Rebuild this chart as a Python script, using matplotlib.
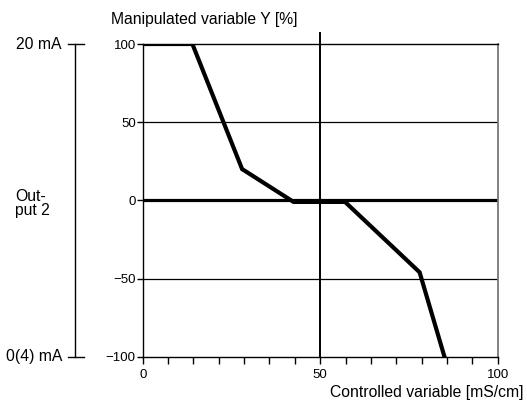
import matplotlib
matplotlib.use("Agg")
import matplotlib.pyplot as plt
import matplotlib.transforms as mtransforms

plt.rcParams['font.family'] = ['Liberation Sans', 'DejaVu Sans']

# characteristic curve: controlled variable vs manipulated variable
x_vals = [0, 14, 28, 42.5, 57, 78, 85]
y_vals = [100, 100, 20, -1, -1, -46, -100]

x_ticks = [i * 100 / 14 for i in range(15)]
x_ticklabels = ['0' if t == 0 else '50' if abs(t - 50) < 1e-6 else '100' if abs(t - 100) < 1e-6 else '' for t in x_ticks]
y_ticks = [-100, -50, 0, 50, 100]
y_ticklabels = ['\u2212100', '\u221250', '0', '50', '100']

fig = plt.figure(figsize=(5.27, 4.03), dpi=100)
ax = fig.add_axes([0.2708, 0.1149, 0.6736, 0.7759])
ax.set_xlim(0, 100)
ax.set_ylim(-100, 100)

# spines
ax.spines['left'].set_linewidth(1.0)
ax.spines['bottom'].set_linewidth(1.0)
ax.spines['top'].set_linewidth(1.0)
ax.spines['right'].set_linewidth(1.3)
ax.spines['right'].set_color('#777777')

# grid lines at +/-50
for yy in [50, -50]:
    ax.axhline(yy, color='black', linewidth=0.9, zorder=1)

# thick zero line and the 50 setpoint line
ax.axhline(0, color='black', linewidth=2.3, zorder=2)
ax.plot([50, 50], [-100, 107], color='black', linewidth=1.4, clip_on=False, zorder=2)

ax.plot(x_vals, y_vals, color='black', linewidth=3.0, solid_joinstyle='miter', zorder=3)

ax.set_xticks(x_ticks)
ax.set_xticklabels(x_ticklabels)
ax.set_yticks(y_ticks)
ax.set_yticklabels(y_ticklabels)
ax.tick_params(axis='x', direction='out', length=5, width=1, labelsize=9.5, pad=4)
ax.tick_params(axis='y', direction='out', length=4, width=1, labelsize=9.5, pad=1)

# axis titles
trans = mtransforms.blended_transform_factory(ax.transAxes, ax.transData)
ax.text(-0.089, 115.5, 'Manipulated variable Y [%]', transform=trans, fontsize=11.3,
        ha='left', va='center')
fig.text(524 / 527, 1 - 393 / 403, 'Controlled variable [mS/cm]', fontsize=11.3,
         ha='right', va='center')

# output 2 current scale on the left
ax.plot([-0.1907, -0.1907], [-100, 100], transform=trans, color='black', linewidth=1.0, clip_on=False)
for yy in [100, -100]:
    ax.plot([-0.2104, -0.1654], [yy, yy], transform=trans, color='black', linewidth=1.0, clip_on=False)
ax.text(-0.228, 100, '20 mA', transform=trans, fontsize=11.3, ha='right', va='center')
ax.text(-0.226, -100, '0(4) mA', transform=trans, fontsize=11.3, ha='right', va='center')
ax.text(-0.3597, -2, 'Out-\nput 2', transform=trans, fontsize=11.3, ha='left', va='center',
        linespacing=0.9)

fig.savefig('out.png', dpi=100)
